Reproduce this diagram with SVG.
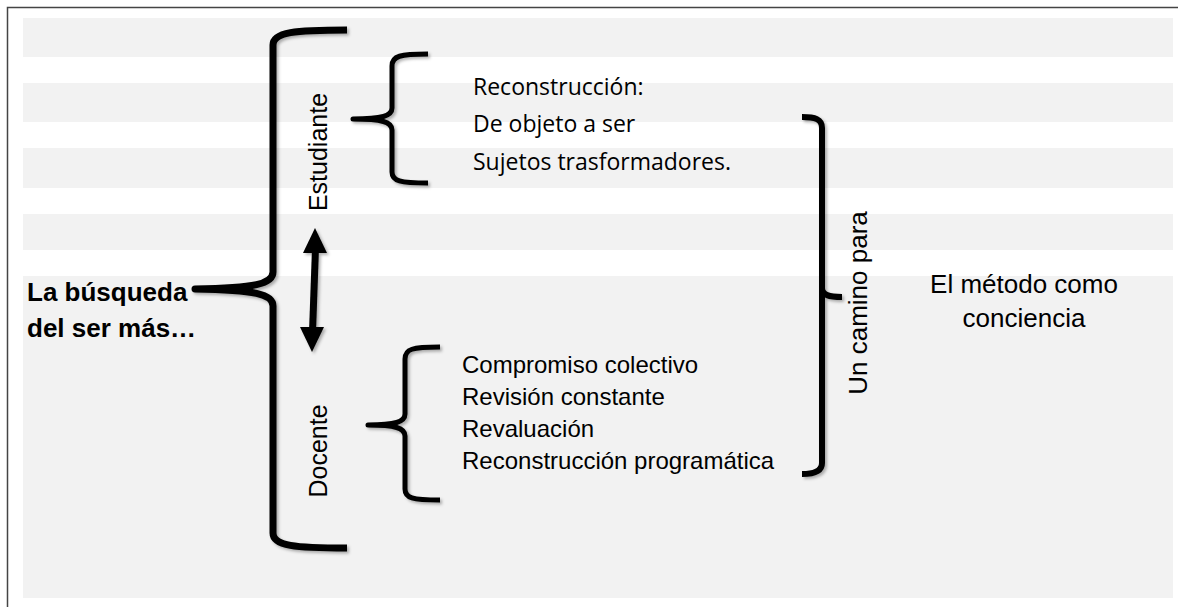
<svg xmlns="http://www.w3.org/2000/svg" width="1178" height="607" viewBox="0 0 1178 607">
<style>
.band{fill:#f2f2f2}
.br{fill:none;stroke:#000;stroke-linejoin:round;stroke-linecap:butt;filter:url(#sh)}
.t{font-family:"Liberation Sans",Arial,sans-serif;fill:#000}
.c{font-family:"Open Sans","Liberation Sans",sans-serif;fill:#000;font-size:23px}
.b{font-weight:bold;font-size:26px}
.l{font-size:24px}
.v{font-size:25px}
</style>
<defs>
<filter id="sh" x="-20%" y="-20%" width="140%" height="140%">
<feDropShadow dx="2" dy="2" stdDeviation="1.5" flood-color="#000" flood-opacity="0.3"/>
</filter>
</defs>
<rect width="1178" height="607" fill="#fff"/>
<g id="bands">
<rect class="band" x="23" y="18" width="1150" height="39"/>
<rect class="band" x="23" y="83" width="1150" height="39"/>
<rect class="band" x="23" y="148" width="1150" height="40"/>
<rect class="band" x="23" y="214" width="1150" height="36"/>
<rect class="band" x="23" y="276" width="1150" height="322"/>
</g>
<path d="M7.5,607 L7.5,7.5 L1178,7.5" fill="none" stroke="#444" stroke-width="1.5"/>

<g id="root">
<path class="br" stroke-width="7" d="M347,30 C295,30 273,32 273,45 L273,272 C273,284 255,288 195,289 C255,290 273,294 273,306 L273,533 C273,546 295,548 347,548"/>
<text class="t b" x="27" y="301">La búsqueda</text>
<text class="t b" x="27" y="337">del ser más…</text>
</g>

<g id="estudiante">
<text class="t v" transform="translate(327,152) rotate(-90)" text-anchor="middle">Estudiante</text>
</g>

<g id="estudiante-items">
<path class="br" stroke-width="5" d="M428,54 C400,54 392,56 392,66 L392,108 C392,116 382,119 353,119 C382,119 392,122 392,130 L392,172 C392,181 400,183 428,183"/>
<text class="c" x="473" y="95">Reconstrucción:</text>
<text class="c" x="473" y="132">De objeto a ser</text>
<text class="c" x="473" y="170">Sujetos trasformadores.</text>
</g>

<g id="docente">
<text class="t v" transform="translate(327,451) rotate(-90)" text-anchor="middle">Docente</text>
</g>

<g id="docente-items">
<path class="br" stroke-width="5" d="M440,347 C412,347 405,349 405,359 L405,414 C405,422 395,425 368,425 C395,425 405,428 405,436 L405,489 C405,498 412,500 440,500"/>
<text class="t l" x="462" y="373">Compromiso colectivo</text>
<text class="t l" x="462" y="405">Revisión constante</text>
<text class="t l" x="462" y="437">Revaluación</text>
<text class="t l" x="462" y="469">Reconstrucción programática</text>
</g>

<g id="camino">
<path class="br" stroke-width="6" d="M802,117 C815,117 822,119 822,128 L822,463 C822,471 815,474 802,474 M822,288 C822,295 829,297 842,297"/>
<text class="t" font-size="26" transform="translate(867,303) rotate(-90)" text-anchor="middle">Un camino para</text>
</g>

<g id="metodo">
<text class="t" font-size="26" x="1024" y="293" text-anchor="middle">El método como</text>
<text class="t" font-size="26" x="1024" y="327" text-anchor="middle">conciencia</text>
</g>

<g id="connectors">
<g filter="url(#sh)">
<line x1="315.5" y1="248" x2="312.5" y2="332" stroke="#000" stroke-width="7"/>
<polygon points="315,228 327,253 303,253"/>
<polygon points="312,352 300,327 324,327"/>
</g>
</g>
</svg>
